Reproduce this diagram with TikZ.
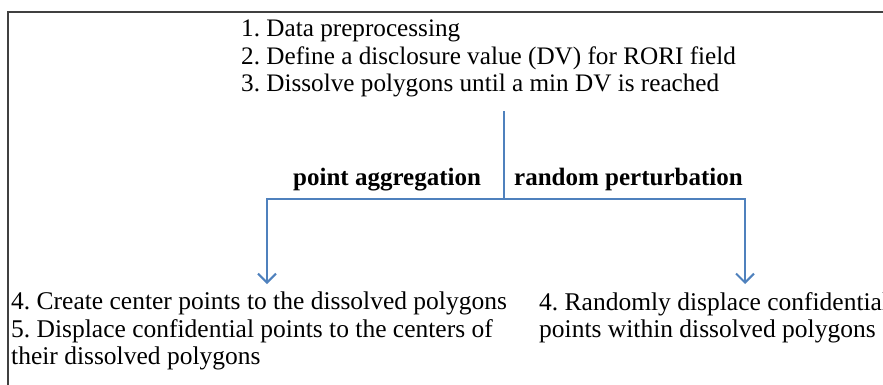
\documentclass[tikz,border=0pt]{standalone}
\usepackage{fontspec}
\setmainfont{Liberation Serif}
\usetikzlibrary{arrows.meta}
\tikzset{>={Straight Barb[length=9pt,width=18pt]}}
\definecolor{flowblue}{HTML}{4F81BD}
\tikzset{
  steptext/.style={anchor=north west, inner sep=0pt, align=left,
    font=\fontsize{25.2}{27.3}\selectfont\frenchspacing},
  resulttext/.style={steptext, font=\fontsize{25.5}{27.3}\selectfont\frenchspacing},
  branchlabel/.style={anchor=base west, inner sep=0pt,
    font=\fontsize{25}{27.3}\selectfont\bfseries},
  flow/.style={flowblue, line width=2pt},
}

\begin{document}
\begin{tikzpicture}[x=1pt, y=-1pt]
    \useasboundingbox (0,0) rectangle (883,384);
    \clip (0,0) rectangle (883,384);
    \draw[line width=1.5pt, black!75] (8,390) -- (8,12) -- (890,12);

    \node[steptext] (prep) at (241,20) {1. Data preprocessing\\
        2. Define a disclosure value (DV) for RORI field\\
        3. Dissolve polygons until a min DV is reached};

    \node[branchlabel] (aggr) at (293,185) {point aggregation};
    \node[branchlabel] (pert) at (514,185) {random perturbation};

    \node[resulttext] (centers) at (11,292) {4. Create center points to the dissolved polygons\\
        5. Displace confidential points to the centers of\\
        their dissolved polygons};
    \node[resulttext] (random) at (539,292) {4. Randomly displace confidential\\
        points within dissolved polygons};

    \coordinate (top) at (504,111);
    \coordinate (fork) at (504,199);
    \coordinate (tipA) at (267,284);
    \coordinate (tipB) at (745,284);

    \draw[flow] (top) -- (fork);
    \draw[flow, ->] (fork) -| (tipA);
    \draw[flow, ->] (fork) -| (tipB);
\end{tikzpicture}
\end{document}
